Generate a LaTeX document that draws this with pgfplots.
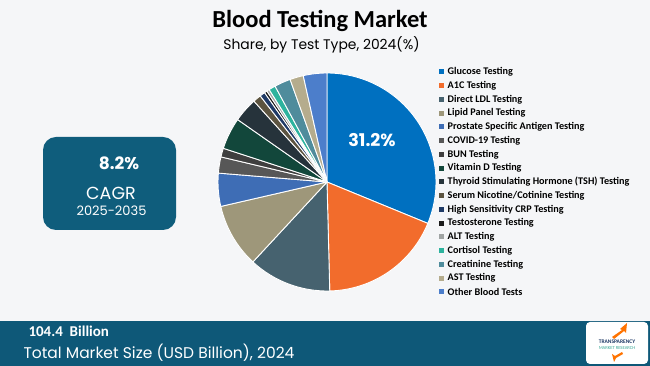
\documentclass[border=0pt]{standalone}
\usepackage{pgfplots}
\pgfplotsset{compat=1.18}
\usepackage{pgfplotstable}
\usepackage{fontspec}
\setmainfont{Carlito}
\newfontfamily\gothic{Poppins}
\definecolor{bg}{HTML}{F5F6F8}
\definecolor{band}{HTML}{0E5878}
\definecolor{boxc}{HTML}{0F5D7C}
\definecolor{cA}{HTML}{0070C0}
\definecolor{cB}{HTML}{F26C2C}
\definecolor{cC}{HTML}{46626F}
\definecolor{cD}{HTML}{9E977A}
\definecolor{cE}{HTML}{3E6DB5}
\definecolor{cF}{HTML}{575757}
\definecolor{cG}{HTML}{3F3F3F}
\definecolor{cH}{HTML}{12473B}
\definecolor{cI}{HTML}{26333B}
\definecolor{cJ}{HTML}{5C5440}
\definecolor{cK}{HTML}{1F3A66}
\definecolor{cL}{HTML}{1A1A1A}
\definecolor{cM}{HTML}{A0A4A4}
\definecolor{cN}{HTML}{2DB39E}
\definecolor{cO}{HTML}{4F8C9C}
\definecolor{cP}{HTML}{B5AC8D}
\definecolor{cQ}{HTML}{4C7ECB}
\pgfplotstableread{
test share
Glucose 31.2
A1C 18.4
DirectLDL 12.3
LipidPanel 9.5
PSA 4.9
COVID19 2.4
BUN 1.3
VitaminD 4.7
TSH 3.6
SerumNicotine 1.2
hsCRP 0.8
Testosterone 0.4
ALT 0.4
Cortisol 1.0
Creatinine 2.4
AST 2.0
Other 3.5
}\piedata
\pgfdeclareplotmark{nothing}{}
\gdef\pieacc{90}
\gdef\pieidx{0}
\def\piecolors{{"cA","cB","cC","cD","cE","cF","cG","cH","cI","cJ","cK","cL","cM","cN","cO","cP","cQ"}}
\begin{document}
\begin{tikzpicture}[x=1pt,y=1pt]
\useasboundingbox (0,0) rectangle (650,366);
\fill[bg] (0,0) rectangle (650,366);
% bottom band
\fill[band] (0,0) rectangle (650,45);
\node[anchor=west, text=white, font=\bfseries\fontsize{15}{17}\selectfont] at (25,34.5) {104.4\ \ Billion};
\node[anchor=west, text=white, font=\gothic\fontsize{15.5}{17}\selectfont] at (20,13.5) {Total Market Size (USD Billion), 2024};
% logo
\fill[white, rounded corners=4pt] (586,2) rectangle (648,44);
\fill[orange!90!red] (620,37) -- (627,43) -- (626,33) -- (624,35) -- (614,27) -- (612,29) -- (622,36) -- cycle;
\node[text=cK, font=\bfseries\fontsize{5.5}{5.5}\selectfont] at (617,24) {TRANSPARENCY};
\node[text=cN!80!gray, font=\fontsize{4.6}{4.6}\selectfont] at (617,18) {MARKET RESEARCH};
\fill[orange!90!red] (614,4) -- (612,12) -- (615,10) -- (622,14) -- (623,12) -- (616,8) -- cycle;
% title
\node[font=\bfseries\fontsize{24.5}{27}\selectfont] at (320,345) {Blood Testing Market};
\node[font=\gothic\fontsize{13.9}{16}\selectfont] at (321.5,321) {Share, by Test Type, 2024(\%)};
% CAGR box
\fill[boxc, rounded corners=13pt] (43,136) rectangle (176,229);
\node[text=white, font=\gothic\bfseries\fontsize{17}{19}\selectfont] at (119,203) {8.2\%};
\node[text=white, font=\gothic\fontsize{17.5}{19}\selectfont] at (111,173) {CAGR};
\node[text=white, font=\gothic\fontsize{13}{15}\selectfont] at (111.5,155) {2025-2035};
% pie
\begin{axis}[at={(327pt,184pt)}, anchor=origin, width=218pt, height=218pt,
  scale only axis, xmin=-1, xmax=1, ymin=-1, ymax=1, hide axis, clip=false]
\addplot[scatter, only marks, mark=nothing, point meta=explicit symbolic,
  scatter/@pre marker code/.code={%
    \pgfkeys{/pgf/fpu=false}%
    \pgfmathsetmacro\pieB{\pieacc-3.6*\pgfplotspointmeta}%
    \pgfmathsetmacro\pcol{\piecolors[\pieidx]}%
    \fill[fill=\pcol, draw=white, line width=0.9pt, line join=round] (0pt,0pt) -- (\pieacc:109pt) arc[start angle=\pieacc, end angle=\pieB, radius=109pt] -- cycle;%
    \global\let\pieacc\pieB
    \xdef\pieidx{\the\numexpr\pieidx+1\relax}%
  },
  scatter/@post marker code/.code={}]
  table[x expr=0, y expr=0, meta=share] {\piedata};
\end{axis}
\node[text=white, font=\gothic\bfseries\fontsize{17.5}{19}\selectfont] at (372,226) {31.2\%};
% legend
\foreach \c/\t [count=\i from 0] in {cA/{Glucose Testing},cB/{A1C Testing},cC/{Direct LDL Testing},cD/{Lipid Panel Testing},cE/{Prostate Specific Antigen Testing},cF/{COVID-19 Testing},cG/{BUN Testing},cH/{Vitamin D Testing},cI/{Thyroid Stimulating Hormone (TSH) Testing},cJ/{Serum Nicotine/Cotinine Testing},cK/{High Sensitivity CRP Testing},cL/{Testosterone Testing},cM/{ALT Testing},cN/{Cortisol Testing},cO/{Creatinine Testing},cP/{AST Testing},cQ/{Other Blood Tests}}{
  \pgfmathsetmacro\yy{366-72-13.75*\i}
  \fill[\c] (439,\yy-2.5) rectangle (444,\yy+2.5);
  \node[anchor=west, inner sep=0pt, font=\bfseries\fontsize{10.2}{11}\selectfont] at (447.5,\yy) {\t};
}
\end{tikzpicture}
\end{document}
